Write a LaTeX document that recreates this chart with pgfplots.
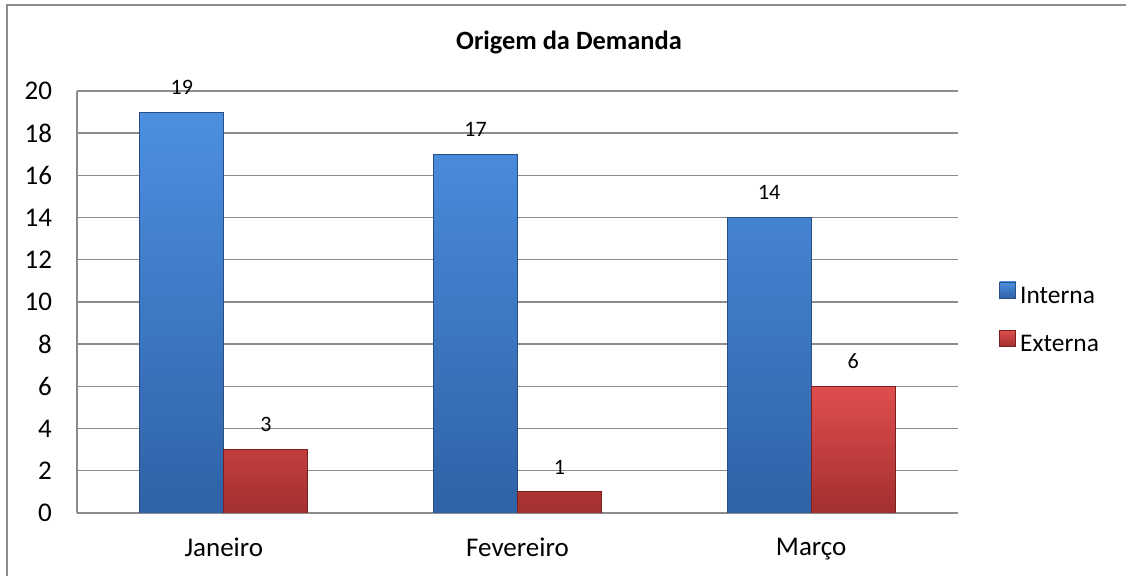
\documentclass[border=0pt]{standalone}
\usepackage{fontspec}
\setmainfont{Carlito}
\usepackage{pgfplots}
\pgfplotsset{compat=1.18}
\definecolor{gridc}{HTML}{8C8C8C}
\definecolor{bluetop}{HTML}{4C8FE0}
\definecolor{bluemid}{HTML}{3F7ECD}
\definecolor{bluebot}{HTML}{2F62A6}
\definecolor{blueedge}{HTML}{284F84}
\definecolor{redtop}{HTML}{E04E4E}
\definecolor{redmid}{HTML}{CF4040}
\definecolor{redbot}{HTML}{A32F2F}
\definecolor{rededge}{HTML}{7A2020}
\begin{document}
\begin{tikzpicture}
\fill[white] (0,0) rectangle (563pt,288pt);
\useasboundingbox (0,0) rectangle (563pt,288pt);
\draw[gridc, line width=0.75pt] (3.5pt,0) -- (3.5pt,285.5pt) -- (563pt,285.5pt);
\node[font=\bfseries\fontsize{13.2}{15}\selectfont, anchor=base] at (284.5pt,263pt) {Origem da Demanda};
\begin{axis}[
  at={(38.5pt,31.5pt)}, anchor=south west,
  scale only axis, width=440.5pt, height=211pt,
  ybar=0pt, bar width=42pt,
  xmin=-0.5, xmax=2.5, ymin=0, ymax=20,
  xtick={0,1,2}, xticklabels={Janeiro,Fevereiro,Março},
  ytick={0,2,...,20},
  ymajorgrids, grid style={gridc, line width=0.7pt},
  axis x line*=bottom, axis y line*=left,
  axis line style={-, gridc, line width=0.7pt},
  major tick length=0pt, tick style={draw=none},
  /pgf/number format/assume math mode=true,
  ticklabel style={font=\fontsize{13.5}{15}\selectfont},
  yticklabel style={xshift=-9pt},
  xticklabel style={yshift=-9pt},
  nodes near coords,
  every node near coord/.append style={font=\fontsize{11}{13}\selectfont, inner sep=0pt, yshift=8.7pt, black},
  legend style={draw=none, fill=none, at={(1,0.457)}, anchor=west, xshift=17.5pt,
    font=\fontsize{12.7}{14}\selectfont, row sep=9.5pt},
  legend cell align=left,
  legend image code/.code={\path[#1] (0pt,-0.5pt) rectangle (8pt,7.5pt);},
]
\addplot[draw=blueedge, line width=0.4pt, top color=bluetop, middle color=bluemid, bottom color=bluebot] coordinates {(0,19) (1,17) (2,14)};
\addplot[draw=rededge, line width=0.4pt, top color=redtop, middle color=redmid, bottom color=redbot] coordinates {(0,3) (1,1) (2,6)};
\legend{Interna,Externa}
\end{axis}
\end{tikzpicture}
\end{document}
